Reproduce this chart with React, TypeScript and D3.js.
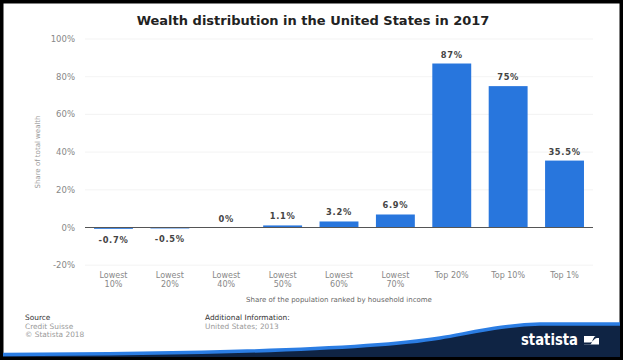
import React from "react";
import * as d3 from "d3";

const categories = ["Lowest 10%", "Lowest 20%", "Lowest 40%", "Lowest 50%", "Lowest 60%", "Lowest 70%", "Top 20%", "Top 10%", "Top 1%"];
const values = [-0.7, -0.5, 0, 1.1, 3.2, 6.9, 87, 75, 35.5];
const valueLabels = ["-0.7%", "-0.5%", "0%", "1.1%", "3.2%", "6.9%", "87%", "75%", "35.5%"];
const yTicks = [-20, 0, 20, 40, 60, 80, 100];

const W = 623, H = 360;
const FONT = "DejaVu Sans, sans-serif";

export default function App() {
  const x = d3.scaleBand<string>().domain(categories).range([85, 593]).paddingInner(0.31).paddingOuter(0.16);
  const y = d3.scaleLinear().domain([-20, 100]).range([265.2, 39]);
  const bw = x.bandwidth();
  const swoosh = "M3,357 L3,354.5 C180,354 360,351 440,338 C480,331 505,325 540,324 L620,324 L620,357 Z";
  const swooshTop = "M3,354.5 C180,354 360,351 440,338 C480,331 505,325 540,324 L620,324";
  return (
    <svg width={W} height={H} style={{ position: "absolute", left: 0, top: 0, display: "block" }} fontFamily={FONT}>
      <rect x={0} y={0} width={W} height={H} fill="#000" />
      <rect x={3.5} y={3.5} width={616} height={352} fill="#fff" />
      <text x={313} y={25} textAnchor="middle" fontSize={13} fontWeight="bold" fill="#222">
        Wealth distribution in the United States in 2017
      </text>
      {yTicks.map((t) => (
        <g key={t}>
          {t !== 0 && <line x1={85} x2={593} y1={y(t)} y2={y(t)} stroke="#f0f0f0" strokeWidth={0.8} />}
          <text x={75} y={y(t) + 3} textAnchor="end" fontSize={8.5} fill="#888">{t}%</text>
        </g>
      ))}
      <text transform={`translate(40,152) rotate(-90)`} textAnchor="middle" fontSize={7} fill="#999">
        Share of total wealth
      </text>
      {categories.map((c, i) => {
        const v = values[i];
        const x0 = x(c)!;
        const top = Math.min(y(v), y(0));
        const h = Math.abs(y(v) - y(0));
        const parts = c.split(" ");
        const lines = c.startsWith("Lowest") ? parts : [c];
        return (
          <g key={c}>
            <rect x={x0} y={top} width={bw} height={h} fill="#2876dd" />
            <text x={x0 + bw / 2} y={v < 0 ? y(v) + 14 : y(v) - 6} textAnchor="middle" fontSize={8.3} fontWeight="bold" fill="#444" letterSpacing={0.7}>
              {valueLabels[i]}
            </text>
            {lines.map((l, j) => (
              <text key={j} x={x0 + bw / 2} y={277.5 + j * 9} textAnchor="middle" fontSize={8} fill="#888">{l}</text>
            ))}
          </g>
        );
      })}
      <line x1={85} x2={593} y1={y(0)} y2={y(0)} stroke="#555" strokeWidth={1} />
      <text x={339} y={302} textAnchor="middle" fontSize={7} fill="#666">
        Share of the population ranked by household income
      </text>
      <text x={25} y={320} fontSize={7.4} fill="#333">Source</text>
      <text x={25} y={328.5} fontSize={7.4} fill="#999">Credit Suisse</text>
      <text x={25} y={337} fontSize={7.4} fill="#999">© Statista 2018</text>
      <text x={205} y={320} fontSize={7.4} fill="#333">Additional Information:</text>
      <text x={205} y={328.5} fontSize={7.4} fill="#999">United States; 2013</text>
      <path d={swoosh} fill="#0f2444" />
      <path d={swooshTop} fill="none" stroke="#2b7de3" strokeWidth={3.5} />
      <text x={521} y={344.5} fontSize={15} fontWeight="bold" fill="#fff" fontFamily="DejaVu Sans Condensed, DejaVu Sans, sans-serif" textLength={57} lengthAdjust="spacingAndGlyphs">statista</text>
      <rect x={584} y={336} width={15} height={8.5} fill="#fff" />
      <path d="M584,344.5 L590,344.5 C592,344.5 593,336 596,336 L599,336 L599,338 L597,338 C594,338 593,342.5 590,342.5 L584,342.5 Z" fill="#0f2444" />
    </svg>
  );
}
